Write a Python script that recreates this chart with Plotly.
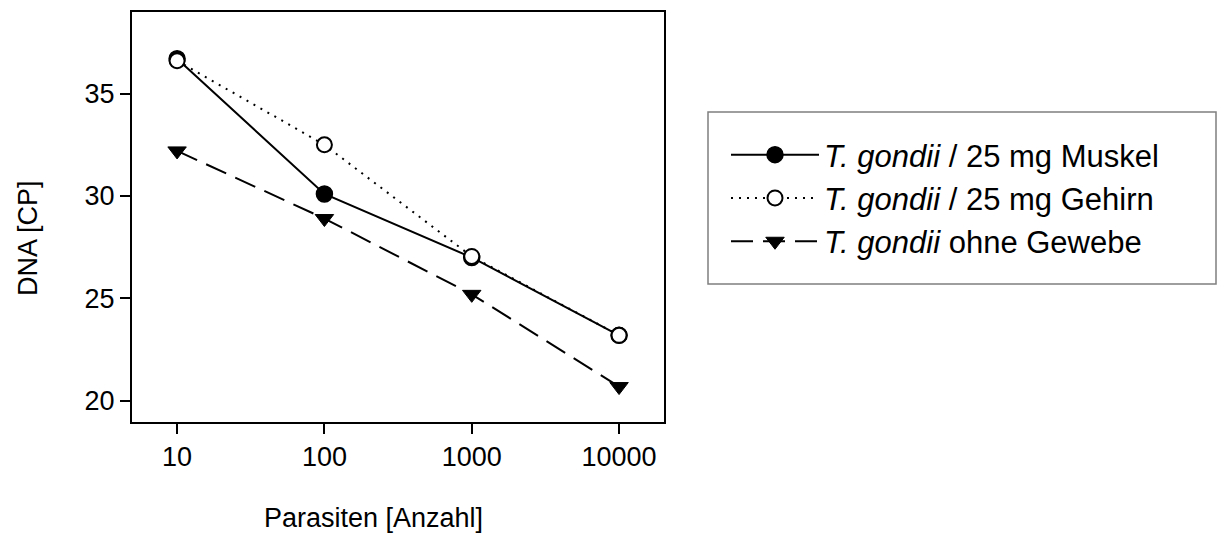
import plotly.graph_objects as go

parasiten = [10, 100, 1000, 10000]
muskel = [36.7, 30.1, 27.0, 23.2]
gehirn = [36.6, 32.5, 27.05, 23.2]
ohne = [32.2, 28.9, 25.2, 20.7]

names = ["<i>T. gondii</i> / 25 mg Muskel",
         "<i>T. gondii</i> / 25 mg Gehirn",
         "<i>T. gondii</i> ohne Gewebe"]
x_ticks = [10, 100, 1000, 10000]
x_ticklabels = ["10", "100", "1000", "10000"]
y_ticks = [20, 25, 30, 35]
x_title = "Parasiten [Anzahl]"
y_title = "DNA [CP]"

FONT = "Liberation Sans, Arial, sans-serif"
PW, PH = 532, 410  # plot area size in px

fig = go.Figure()
fig.add_trace(go.Scatter(
    x=parasiten, y=muskel, name=names[0], mode="lines+markers",
    line=dict(color="black", width=2, dash="solid"),
    marker=dict(symbol="circle", size=16, color="black", line=dict(color="black", width=1.5))))
fig.add_trace(go.Scatter(
    x=parasiten, y=gehirn, name=names[1], mode="lines+markers",
    line=dict(color="black", width=2, dash="2px,6px"),
    marker=dict(symbol="circle", size=15, color="white", line=dict(color="black", width=2))))
fig.add_trace(go.Scatter(
    x=parasiten, y=ohne, name=names[2], mode="lines+markers",
    line=dict(color="black", width=2, dash="22px,10px"),
    marker=dict(symbol="triangle-down", size=16, color="black", line=dict(color="black", width=1))))

fig.update_layout(
    width=1219, height=553,
    margin=dict(l=132, r=555, t=12, b=131, autoexpand=False),
    paper_bgcolor="white", plot_bgcolor="white",
    font=dict(family=FONT, size=27, color="black"),
    showlegend=True,
    legend=dict(
        x=(726 - 132) / PW, y=(422 - 128) / PH, xanchor="left", yanchor="top",
        bgcolor="rgba(0,0,0,0)", borderwidth=0,
        font=dict(family=FONT, size=31, color="black"),
        itemwidth=88, traceorder="normal",
    ),
    shapes=[dict(type="rect", xref="paper", yref="paper",
                 x0=(708 - 132) / PW, x1=(1216 - 132) / PW,
                 y0=(422 - 284) / PH, y1=(422 - 112) / PH,
                 line=dict(color="#7f7f7f", width=1.5), fillcolor="rgba(0,0,0,0)")],
    annotations=[
        dict(text=x_title, xref="paper", yref="paper",
             x=(373 - 132) / PW, y=(422 - 518) / PH, xanchor="center", yanchor="middle",
             showarrow=False, font=dict(family=FONT, size=27)),
        dict(text=y_title, xref="paper", yref="paper", textangle=-90,
             x=(28 - 132) / PW, y=(422 - 238) / PH, xanchor="center", yanchor="middle",
             showarrow=False, font=dict(family=FONT, size=27)),
    ],
)
fig.update_xaxes(
    type="log", range=[0.694, 4.305],
    tickvals=x_ticks, ticktext=x_ticklabels,
    ticks="outside", ticklen=10, tickwidth=2, tickcolor="black",
    showline=True, linecolor="black", linewidth=2, mirror=True,
    showgrid=False, zeroline=False,
    tickfont=dict(family=FONT, size=27),
)
fig.update_yaxes(
    range=[18.97, 38.98],
    tickvals=y_ticks,
    ticks="outside", ticklen=10, tickwidth=2, tickcolor="black",
    showline=True, linecolor="black", linewidth=2, mirror=True,
    showgrid=False, zeroline=False,
    tickfont=dict(family=FONT, size=27),
)

fig.write_html("out.html")
